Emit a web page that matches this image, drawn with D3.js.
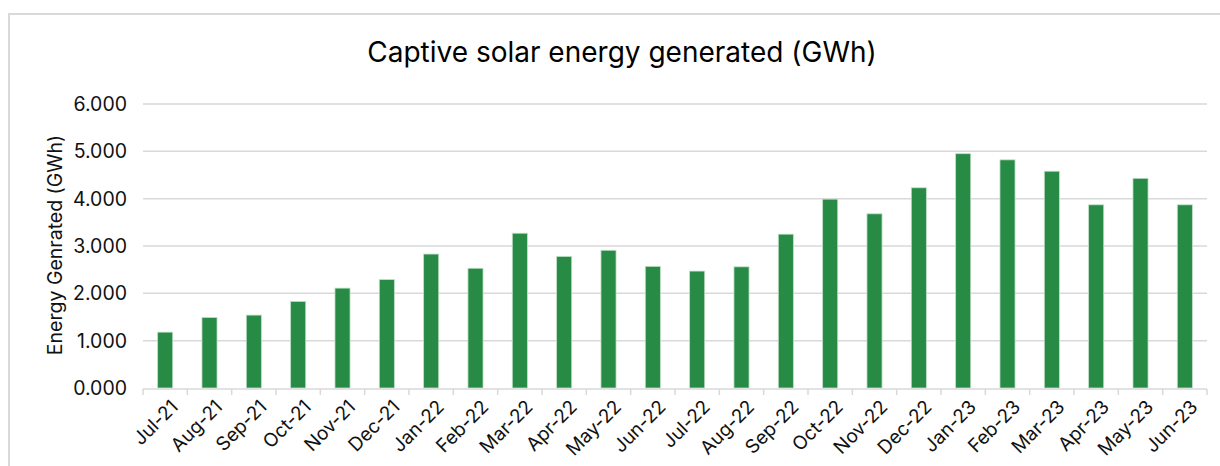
<!DOCTYPE html>
<html>
<head>
<meta charset="utf-8">
<script src="https://cdn.jsdelivr.net/npm/d3@7"></script>
<style>
  body { margin: 0; background: #fff; }
  svg { display: block; font-family: Inter, "Noto Sans", sans-serif; }
</style>
</head>
<body>
<div id="chart"></div>
<script>
const months = ["Jul-21", "Aug-21", "Sep-21", "Oct-21", "Nov-21", "Dec-21",
  "Jan-22", "Feb-22", "Mar-22", "Apr-22", "May-22", "Jun-22",
  "Jul-22", "Aug-22", "Sep-22", "Oct-22", "Nov-22", "Dec-22",
  "Jan-23", "Feb-23", "Mar-23", "Apr-23", "May-23", "Jun-23"];
const energy = [1.18, 1.49, 1.54, 1.83, 2.11, 2.29,
  2.83, 2.53, 3.27, 2.78, 2.91, 2.57,
  2.47, 2.56, 3.25, 3.99, 3.68, 4.23,
  4.95, 4.82, 4.58, 3.87, 4.43, 3.87];
const yTicks = [0, 1, 2, 3, 4, 5, 6];

const width = 1220, height = 466;
const margin = {top: 104, right: 13, bottom: 78, left: 143};

let svg = d3.select("#chart")
  .append("svg")
  .attr("width", width)
  .attr("height", height);

// outer frame (only top and left edges are in view)
svg.append("rect")
  .attr("x", 9)
  .attr("y", 14)
  .attr("width", width + 20)
  .attr("height", height + 20)
  .attr("fill", "none")
  .attr("stroke", "#d9d9d9")
  .attr("stroke-width", 2);

svg.append("text")
  .attr("x", 622)
  .attr("y", 62)
  .attr("text-anchor", "middle")
  .attr("font-size", "28")
  .attr("fill", "#000")
  .text("Captive solar energy generated (GWh)");

let x = d3.scaleBand()
  .domain(months)
  .range([margin.left, width - margin.right])
  .paddingInner(0.66)
  .paddingOuter(0.33);

let y = d3.scaleLinear()
  .domain([0, 6])
  .range([388, margin.top]);

// gridlines
svg.append("g")
  .selectAll("line")
  .data(yTicks.slice(1))
  .join("line")
  .attr("x1", margin.left)
  .attr("x2", width - margin.right)
  .attr("y1", d => y(d))
  .attr("y2", d => y(d))
  .attr("stroke", "#d9d9d9")
  .attr("stroke-width", 1.5);

// y tick labels
svg.append("g")
  .selectAll("text")
  .data(yTicks)
  .join("text")
  .attr("x", 127)
  .attr("y", d => y(d))
  .attr("dy", "0.36em")
  .attr("text-anchor", "end")
  .attr("font-size", "19.5")
  .attr("fill", "#111")
  .text(d => d3.format(".3f")(d));

svg.append("text")
  .attr("transform", "translate(62,245) rotate(-90)")
  .attr("text-anchor", "middle")
  .attr("font-size", "19.5")
  .attr("fill", "#111")
  .text("Energy Genrated (GWh)");

// bars
svg.append("g")
  .selectAll("rect")
  .data(months)
  .join("rect")
  .attr("x", d => x(d))
  .attr("y", (d, i) => y(energy[i]))
  .attr("width", x.bandwidth())
  .attr("height", (d, i) => y(0) - y(energy[i]))
  .attr("fill", "#278a45")
  .attr("stroke", "#bfe0c8")
  .attr("stroke-width", 0.8);

// x axis line and between-category ticks
let axis = svg.append("g");
axis.append("line")
  .attr("x1", margin.left)
  .attr("x2", width - margin.right)
  .attr("y1", 389)
  .attr("y2", 389)
  .attr("stroke", "#d9d9d9")
  .attr("stroke-width", 1.5);

let step = x.step();
let bounds = months.map(m => x(m) - x.paddingOuter() * step).concat([width - margin.right]);
axis.selectAll(".tick")
  .data(bounds)
  .join("line")
  .attr("class", "tick")
  .attr("x1", d => d)
  .attr("x2", d => d)
  .attr("y1", 389)
  .attr("y2", 395)
  .attr("stroke", "#d9d9d9")
  .attr("stroke-width", 1.5);

axis.selectAll(".lbl")
  .data(months)
  .join("text")
  .attr("class", "lbl")
  .attr("transform", d => `translate(${x(d) + x.bandwidth() / 2 + 4},398) rotate(-45)`)
  .attr("dy", "0.75em")
  .attr("text-anchor", "end")
  .attr("font-size", "19")
  .attr("fill", "#111")
  .text(d => d);
</script>
</body>
</html>
